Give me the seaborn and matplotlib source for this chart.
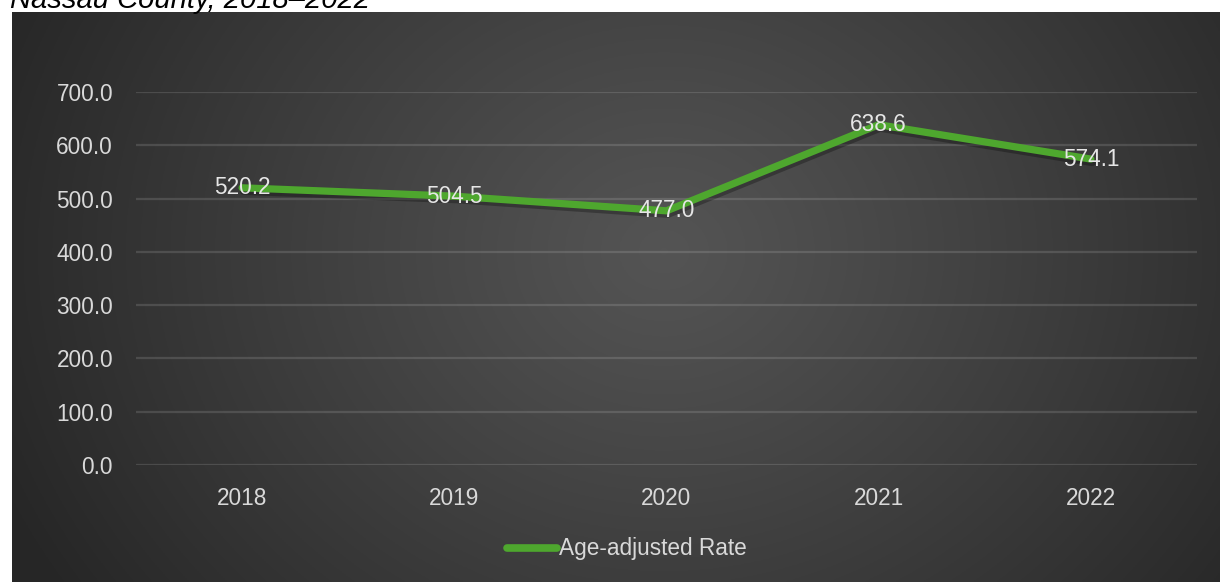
import numpy as np
import pandas as pd
import matplotlib
matplotlib.use("Agg")
import matplotlib.pyplot as plt
import matplotlib.patheffects as pe
import seaborn as sns

years = ["2018", "2019", "2020", "2021", "2022"]
rates = [520.2, 504.5, 477.0, 638.6, 574.1]
series_name = "Age-adjusted Rate"
title_text = "Nassau County, 2018\u20132022"
y_ticks = [0, 100, 200, 300, 400, 500, 600, 700]

sns.set_theme(style="white")
plt.rcParams['font.family'] = ['Liberation Sans', 'DejaVu Sans']

W, H = 1220, 582
fig = plt.figure(figsize=(W / 100, H / 100), dpi=100)
fig.patch.set_facecolor("white")

# dark radial gradient panel
bg = fig.add_axes([12 / W, 0, (W - 12) / W, (H - 12) / H])
bg.set_axis_off()
gx, gy = np.meshgrid(np.linspace(0, 1, 600), np.linspace(0, 1, 300))
cx, cy = 0.54, 0.42
d = np.sqrt(((gx - cx) * 1.0) ** 2 + ((gy - cy) * 0.55) ** 2)
d = np.clip(d / 0.6, 0, 1)
c_in, c_out = 0.33, 0.15
val = c_in + (c_out - c_in) * d ** 1.1
img = np.dstack([val, val, val])
bg.imshow(img, aspect="auto", extent=[0, 1, 0, 1], origin="upper")
bg.set_xlim(0, 1)
bg.set_ylim(0, 1)

# main axes
left, right = 136 / W, 1197 / W
bottom = (H - 465) / H
top = (H - 92) / H
ax = fig.add_axes([left, bottom, right - left, top - bottom])
ax.set_facecolor("none")

df = pd.DataFrame({"Year": years, series_name: rates})
sns.lineplot(data=df, x="Year", y=series_name, ax=ax, color="#4EA72E",
             linewidth=5.2, sort=False, label=series_name, zorder=3,
             path_effects=[pe.SimpleLineShadow(offset=(1.0, -2.5), shadow_color="black", alpha=0.28),
                           pe.Normal()])

for i, v in enumerate(rates):
    ax.text(i, v, f"{v:.1f}", ha="center", va="center", color="#E6E6E6",
            fontsize=16.3, zorder=4)

ax.set_xlim(-0.5, len(years) - 0.5)
ax.set_ylim(0, 700)
ax.set_yticks(y_ticks)
ax.set_yticklabels([f"{t:.1f}" for t in y_ticks])
ax.grid(axis="y", color="#FFFFFF", alpha=0.13, linewidth=1.6)
ax.grid(axis="x", visible=False)
for s in ax.spines.values():
    s.set_visible(False)
ax.tick_params(axis="y", colors="#D9D9D9", labelsize=16.3, length=0, pad=16.5)
ax.tick_params(axis="x", colors="#D9D9D9", labelsize=16.3, length=0, pad=16)
ax.set_xlabel("")
ax.set_ylabel("")

leg = ax.legend(loc="center", bbox_to_anchor=(0.463, -0.225), frameon=False,
                fontsize=16.3, handlelength=2.2, handletextpad=0.1)
for t in leg.get_texts():
    t.set_color("#D9D9D9")
for h in leg.get_lines():
    h.set_linewidth(5.5)
    h.set_path_effects([])
    h.set_solid_capstyle("round")

fig.text(10 / W, 1 - 8 / H, title_text, ha="left", va="baseline", fontsize=21,
         color="black", style="italic")

fig.savefig("out.png", dpi=100)
